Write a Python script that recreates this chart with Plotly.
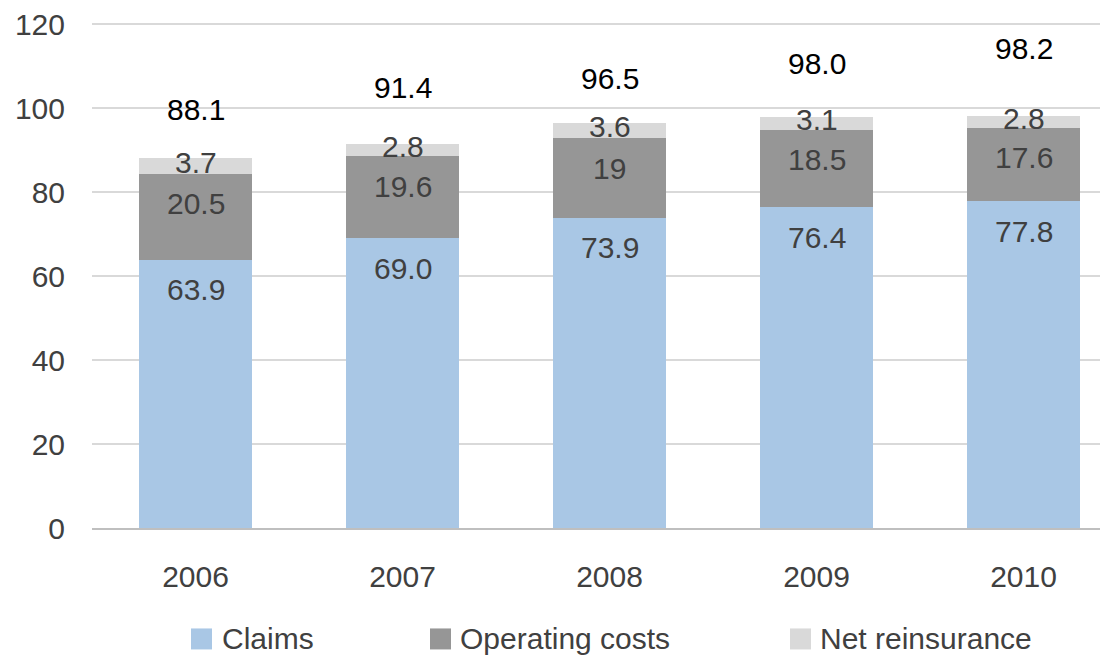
import plotly.graph_objects as go

years = ["2006", "2007", "2008", "2009", "2010"]
claims = [63.9, 69.0, 73.9, 76.4, 77.8]
operating = [20.5, 19.6, 19.0, 18.5, 17.6]
net_reins = [3.7, 2.8, 3.6, 3.1, 2.8]
totals = [88.1, 91.4, 96.5, 98.0, 98.2]
claims_labels = ["63.9", "69.0", "73.9", "76.4", "77.8"]
operating_labels = ["20.5", "19.6", "19", "18.5", "17.6"]
net_labels = ["3.7", "2.8", "3.6", "3.1", "2.8"]
total_labels = ["88.1", "91.4", "96.5", "98.0", "98.2"]
series_names = ["Claims", "Operating costs", "Net reinsurance"]

# styling / layout constants (page has an 8px body margin)
colors = ["#A9C7E5", "#969696", "#D9D9D9"]
FONT = "Liberation Sans, Arial, sans-serif"
FS = 30
OFF = 8
W, H = 1108 - OFF, 655 - OFF
YMAX = 120.3
PX_PER_UNIT = 4.2
plot_h = YMAX * PX_PER_UNIT
B = 655 - 528
T = H - B - plot_h
L, R = 92 - OFF, 0
total_shift_px = [49, 57, 44, 53, 67]

fig = go.Figure()
for name, vals, col in zip(series_names, [claims, operating, net_reins], colors):
    fig.add_trace(go.Bar(x=years, y=vals, name=name, marker=dict(color=col, line=dict(width=0)),
                         showlegend=False, hoverinfo="x+y+name"))

annotations = []
def add_label(i, y, text, shift, color="#404040"):
    annotations.append(dict(xref="x", yref="y", x=i, y=y, text=text, yshift=shift,
                            showarrow=False, xanchor="center", yanchor="middle",
                            font=dict(family=FONT, size=FS, color=color)))

for i in range(len(years)):
    c = claims[i]
    o = c + operating[i]
    add_label(i, c, claims_labels[i], -30)
    add_label(i, o, operating_labels[i], -30)
    add_label(i, o + net_reins[i] / 2, net_labels[i], 3.5)
    add_label(i, totals[i], total_labels[i], total_shift_px[i], "#000000")

# manual legend (reference pixel positions converted to paper coords)
pw = W - L - R
def px2x(px):
    return (px - OFF - L) / pw
def py2y(py):
    return (H - B - (py - OFF)) / plot_h

legend_sq_x = [191, 430, 790]
legend_txt_x = [220, 458, 818]
legend_cy = 639
SQ = 21
shapes = []
for name, col, sx, tx in zip(series_names, colors, legend_sq_x, legend_txt_x):
    shapes.append(dict(type="rect", xref="paper", yref="paper",
                       x0=px2x(sx), x1=px2x(sx + SQ), y0=py2y(legend_cy + SQ / 2), y1=py2y(legend_cy - SQ / 2),
                       fillcolor=col, line=dict(width=0)))
    annotations.append(dict(xref="paper", yref="paper", x=px2x(tx), y=py2y(legend_cy), text=name,
                            showarrow=False, xanchor="left", yanchor="middle",
                            font=dict(family=FONT, size=FS, color="#404040")))

fig.update_layout(
    width=W, height=H,
    margin=dict(l=L, r=R, t=T, b=B, pad=0),
    barmode="stack", bargap=0.45,
    plot_bgcolor="white", paper_bgcolor="white",
    font=dict(family=FONT, size=FS, color="#404040"),
    annotations=annotations, shapes=shapes,
    xaxis=dict(type="category", range=[-0.5, 4.408], showgrid=False, ticks="",
               showline=True, linecolor="#BFBFBF", linewidth=2,
               tickfont=dict(family=FONT, size=FS, color="#404040"), ticklabelstandoff=21),
    yaxis=dict(range=[0, YMAX], tickvals=[0, 20, 40, 60, 80, 100, 120], showgrid=True,
               gridcolor="#D9D9D9", gridwidth=2, zeroline=False, ticks="",
               ticklabeloverflow="allow",
               tickfont=dict(family=FONT, size=FS, color="#404040"), ticklabelstandoff=26),
)
fig.write_html("out.html")
